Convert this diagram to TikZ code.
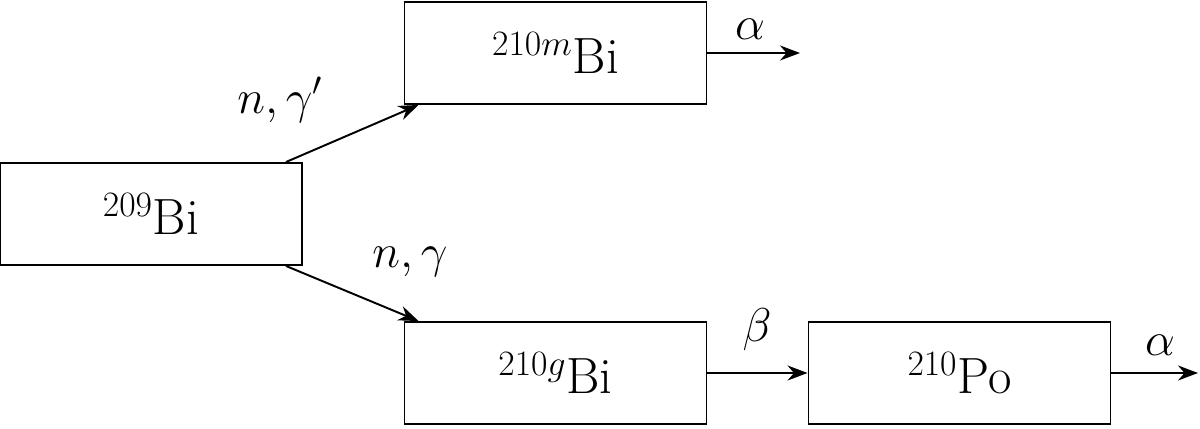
\documentclass[tikz,border=0pt]{standalone}
\usepackage{fix-cm}
\usetikzlibrary{arrows.meta,calc}
\tikzset{
  nucbox/.style={draw,line width=1.1pt,minimum width=6.04cm,minimum height=2.04cm,inner sep=0pt,font=\fontsize{29}{34}\selectfont},
  decay/.style={line width=1.1pt,-{Stealth[length=0.4cm,width=0.3cm]}},
  lbl/.style={font=\fontsize{27}{32}\selectfont}
}
\begin{document}
\begin{tikzpicture}

  \useasboundingbox (0,0) rectangle (24,8.58);

  % nuclei
  \node[nucbox] (bi209) at (3.02,4.30) {$^{209}$Bi};
  \node[nucbox] (bi210m) at (11.11,7.52) {$^{210m}$Bi};
  \node[nucbox] (bi210g) at (11.11,1.12) {$^{210g}$Bi};
  \node[nucbox] (po210) at (19.19,1.12) {$^{210}$Po};

  % free ends
  \coordinate (endm) at (16.0,7.52);
  \coordinate (endpo) at (23.96,1.12);

  % capture
  \draw[decay] ($(bi209.north east)+(-0.34,0)$) -- ($(bi210m.south west)+(0.3,0)$);
  \draw[decay] ($(bi209.south east)+(-0.34,0)$) -- ($(bi210g.north west)+(0.3,0)$);
  \node[lbl] (capm) at (5.6,6.58) {$n,\gamma'$};
  \node[lbl] (capg) at (8.2,3.34) {$n,\gamma$};

  % decays
  \draw[decay] (bi210m.east) -- (endm);
  \draw[decay] (bi210g.east) -- (po210.west);
  \draw[decay] (po210.east) -- (endpo);
  \node[lbl] (alpham) at (15.0,8.0) {$\alpha$};
  \node[lbl] (betag) at (15.14,1.98) {$\beta$};
  \node[lbl] (alphapo) at (23.2,1.68) {$\alpha$};
\end{tikzpicture}
\end{document}
